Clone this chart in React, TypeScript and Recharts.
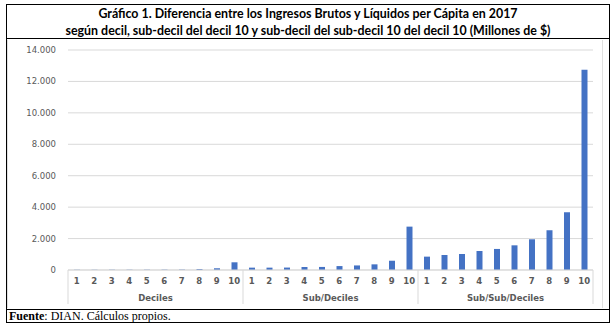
import { BarChart, Bar, XAxis, YAxis, CartesianGrid } from 'recharts'

const groups = ['Deciles', 'Sub/Deciles', 'Sub/Sub/Deciles']
const tickLabels = ['1', '2', '3', '4', '5', '6', '7', '8', '9', '10']
const yTicks = [0, 2000, 4000, 6000, 8000, 10000, 12000, 14000]

const deciles = [15, 15, 18, 18, 20, 22, 25, 60, 110, 490]
const subDeciles = [150, 150, 155, 190, 195, 250, 290, 360, 590, 2760]
const subSubDeciles = [850, 955, 1020, 1210, 1340, 1570, 1955, 2530, 3675, 12740]

const series = [deciles, subDeciles, subSubDeciles]
const data = series.flatMap((vals, g) =>
  vals.map((v, i) => ({ key: `${g}-${i}`, label: tickLabels[i], group: groups[g], value: v }))
)

const fmt = (v: number) => v.toLocaleString('de-DE')

const STEP = 525 / 30

function GroupTick({ x, y, payload, index }: any) {
  const i = payload?.index ?? index
  const d = data[i]
  return (
    <g>
      <text
        x={x}
        y={y + 14}
        textAnchor="middle"
        fontFamily="DejaVu Sans"
        fontWeight="bold"
        fontSize={8.5}
        fill="#595959"
      >
        {d.label}
      </text>
      {i % 10 === 0 && <line x1={x - STEP / 2} x2={x - STEP / 2} y1={y} y2={y + 34} stroke="#d9d9d9" />}
      {i === 29 && <line x1={x + STEP / 2} x2={x + STEP / 2} y1={y} y2={y + 34} stroke="#d9d9d9" />}
      {i % 10 === 4 && (
        <text
          x={x + STEP / 2}
          y={y + 31}
          textAnchor="middle"
          fontFamily="DejaVu Sans"
          fontWeight="bold"
          fontSize={8.5}
          fill="#595959"
        >
          {d.group}
        </text>
      )}
    </g>
  )
}

export default function App() {
  return (
    <div style={{ position: 'absolute', left: 0, top: 0, width: 615, height: 332, background: '#fff' }}>
      <div
        style={{
          position: 'absolute',
          left: 6,
          top: 4,
          width: 602,
          height: 317,
          border: '1.5px solid #000',
        }}
      />
      <div style={{ position: 'absolute', left: 6, top: 38, width: 604, height: 0, borderTop: '1.5px solid #000' }} />
      <div style={{ position: 'absolute', left: 6, top: 309, width: 604, height: 0, borderTop: '1.5px solid #000' }} />
      <div
        style={{
          position: 'absolute',
          left: 6,
          top: 5,
          width: 604,
          textAlign: 'center',
          fontFamily: 'Lato',
          fontWeight: 'bold',
          fontSize: 12.4,
          lineHeight: '17px',
          color: '#000',
        }}
      >
        Gráfico 1. Diferencia entre los Ingresos Brutos y Líquidos per Cápita en 2017
        <br />
        según decil, sub-decil del decil 10 y sub-decil del sub-decil 10 del decil 10 (Millones de $)
      </div>
      <div
        style={{
          position: 'absolute',
          left: 7,
          top: 40,
          width: 596,
          height: 268,
          borderLeft: '1px solid #e0e0e0',
          borderRight: '1px solid #e0e0e0',
          boxSizing: 'border-box',
        }}
      >
        <BarChart width={596} height={268} data={data} margin={{ top: 10, right: 11, left: 0, bottom: 0 }}>
          <CartesianGrid vertical={false} stroke="#d9d9d9" />
          <XAxis
            dataKey="key"
            interval={0}
            tickLine={false}
            tickSize={0}
            tickMargin={0}
            axisLine={{ stroke: '#d9d9d9' }}
            height={38}
            tick={<GroupTick />}
          />
          <YAxis
            domain={[0, 14000]}
            ticks={yTicks}
            tickFormatter={fmt}
            axisLine={false}
            tickLine={false}
            tickSize={0}
            tickMargin={12}
            width={60}
            tick={{ fontFamily: 'DejaVu Sans', fontSize: 8.5, fill: '#595959' }}
          />
          <Bar dataKey="value" fill="#4472C4" barSize={6} isAnimationActive={false} />
        </BarChart>
      </div>
      <div
        style={{
          position: 'absolute',
          left: 9,
          top: 309,
          fontFamily: 'Liberation Serif',
          fontSize: 12,
          lineHeight: '14px',
          color: '#000',
        }}
      >
        <b>Fuente</b>: DIAN. Cálculos propios.
      </div>
    </div>
  )
}
